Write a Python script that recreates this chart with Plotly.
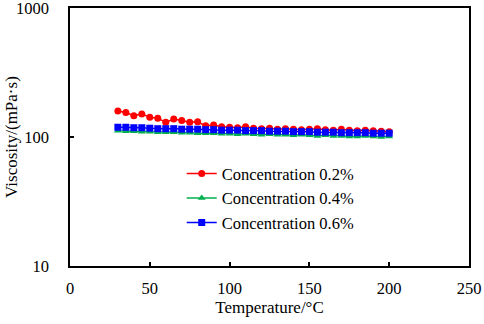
import plotly.graph_objects as go

temperature = [30, 35, 40, 45, 50, 55, 60, 65, 70, 75, 80, 85, 90, 95, 100, 105, 110, 115,
               120, 125, 130, 135, 140, 145, 150, 155, 160, 165, 170, 175, 180, 185, 190, 195, 200]

visc_02 = [159, 155, 146, 151, 142, 140, 130, 138, 134, 130, 131, 122, 124, 120, 119, 118, 120, 117,
           116, 117, 115, 116, 115, 114, 115, 116, 114, 113, 115, 113, 112, 113, 112, 111, 110]
visc_04 = [112, 111, 111, 110, 110, 109, 109, 109, 108, 108, 107, 107, 107, 106, 106, 105, 106, 105,
           104, 105, 104, 104, 103, 104, 103, 102, 103, 102, 102, 101, 101, 102, 101, 100, 101]
visc_06 = [119, 119, 118, 118, 117, 116, 116, 116, 115, 115, 115, 114, 114, 113, 113, 113, 112, 112,
           112, 111, 111, 111, 110, 110, 110, 109, 109, 109, 108, 108, 108, 108, 107, 107, 107]

names = ["Concentration 0.2%", "Concentration 0.4%", "Concentration 0.6%"]
x_ticks = [0, 50, 100, 150, 200, 250]
y_ticks = [10, 100, 1000]
y_ticklabels = ["10", "100", "1000"]
x_title = "Temperature/°C"
y_title = "Viscosity/(mPa·s)"

font_family = "Liberation Serif, Times New Roman, serif"

fig = go.Figure()
series = [
    (visc_02, names[0], "#FF0000", "circle", 7),
    (visc_04, names[1], "#00B050", "triangle-up", 7),
    (visc_06, names[2], "#0000FF", "square", 7),
]
for vals, name, color, sym, sz in series:
    fig.add_trace(go.Scatter(
        x=temperature, y=vals, name=name, mode="lines+markers",
        line=dict(color=color, width=1.5),
        marker=dict(color=color, symbol=sym, size=sz),
    ))

fig.update_layout(
    width=484, height=324,
    margin=dict(l=70, r=15, t=8, b=58, autoexpand=False),
    paper_bgcolor="white", plot_bgcolor="white",
    font=dict(family=font_family, size=17, color="black"),
    showlegend=True,
    legend=dict(
        x=0.28, y=0.425, xanchor="left", yanchor="top",
        bgcolor="rgba(255,255,255,0)", font=dict(family=font_family, size=16.5),
        tracegroupgap=0, itemwidth=30,
    ),
    xaxis=dict(
        range=[0, 250], tickvals=x_ticks, ticks="inside", ticklen=4, tickwidth=1.5,
        tickcolor="black", showline=True, linecolor="black", linewidth=1.5, mirror=True,
        showgrid=False, zeroline=False, automargin=False, ticklabelstandoff=6,
        ticklabeloverflow="allow",
        title=dict(text=x_title, font=dict(size=17), standoff=2),
        tickfont=dict(size=16.5),
    ),
    yaxis=dict(
        type="log", range=[1, 3], tickvals=y_ticks, ticktext=y_ticklabels,
        ticks="inside", ticklen=4, tickwidth=1.5, tickcolor="black",
        showline=True, linecolor="black", linewidth=1.5, mirror=True,
        showgrid=False, zeroline=False, automargin=False, ticklabelstandoff=16,
        ticklabeloverflow="allow",
        tickfont=dict(size=16.5),
    ),
    annotations=[dict(
        text=y_title, xref="paper", yref="paper", x=-0.148, y=0.5,
        xanchor="center", yanchor="middle", textangle=-90, showarrow=False,
        font=dict(family=font_family, size=17, color="black"),
    )],
)

fig.write_html("out.html", config={"displayModeBar": False},
               post_script="document.body.style.margin='0';")
